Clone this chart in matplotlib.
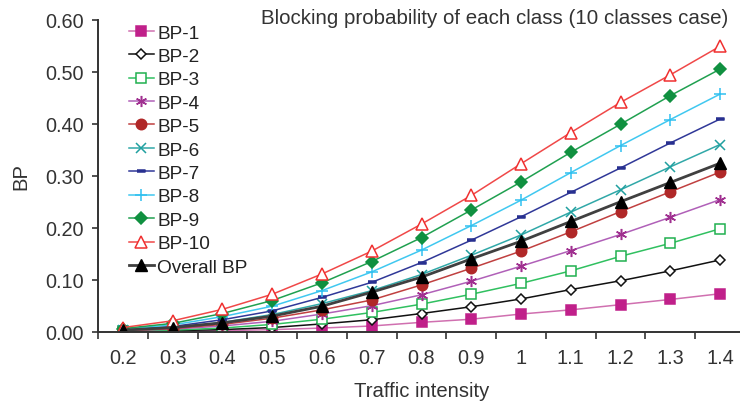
import numpy as np
import matplotlib
matplotlib.use('Agg')
import matplotlib.pyplot as plt
from matplotlib.ticker import FixedLocator

plt.rcParams['font.family'] = ['Liberation Sans', 'DejaVu Sans']

# Data
intensity = ['0.2', '0.3', '0.4', '0.5', '0.6', '0.7', '0.8', '0.9', '1', '1.1', '1.2', '1.3', '1.4']
bp1 = [0.000, 0.001, 0.002, 0.004, 0.007, 0.011, 0.018, 0.024, 0.034, 0.042, 0.052, 0.062, 0.073]
bp2 = [0.001, 0.002, 0.004, 0.008, 0.015, 0.023, 0.035, 0.048, 0.063, 0.081, 0.098, 0.117, 0.138]
bp3 = [0.001, 0.003, 0.007, 0.014, 0.024, 0.037, 0.053, 0.072, 0.093, 0.117, 0.145, 0.170, 0.198]
bp4 = [0.002, 0.005, 0.011, 0.020, 0.034, 0.050, 0.071, 0.097, 0.126, 0.156, 0.187, 0.220, 0.254]
bp5 = [0.002, 0.006, 0.014, 0.026, 0.042, 0.061, 0.090, 0.122, 0.155, 0.192, 0.231, 0.269, 0.307]
bp6 = [0.003, 0.008, 0.018, 0.033, 0.054, 0.079, 0.110, 0.147, 0.186, 0.230, 0.273, 0.317, 0.360]
bp7 = [0.004, 0.010, 0.023, 0.040, 0.066, 0.095, 0.133, 0.176, 0.221, 0.268, 0.315, 0.363, 0.409]
bp8 = [0.005, 0.013, 0.029, 0.049, 0.079, 0.115, 0.157, 0.204, 0.253, 0.306, 0.358, 0.408, 0.457]
bp9 = [0.006, 0.016, 0.035, 0.060, 0.094, 0.135, 0.181, 0.234, 0.288, 0.345, 0.399, 0.454, 0.505]
bp10 = [0.008, 0.021, 0.043, 0.072, 0.111, 0.155, 0.207, 0.262, 0.323, 0.383, 0.441, 0.494, 0.549]
overall = [0.003, 0.008, 0.017, 0.030, 0.049, 0.076, 0.105, 0.140, 0.174, 0.212, 0.250, 0.287, 0.324]

x = np.arange(len(intensity))
dash = [(-1, -0.35), (1, -0.35), (1, 0.35), (-1, 0.35)]

# (label, values, line colour, marker colour, marker, size, filled)
series = [
    ('BP-1', bp1, '#d070b0', '#c0208a', 's', 7.5, True),
    ('BP-2', bp2, '#111111', '#111111', 'D', 5, False),
    ('BP-3', bp3, '#30c060', '#20b050', 's', 7, False),
    ('BP-4', bp4, '#b060b8', '#a03090', (6, 2, 0), 8, False),
    ('BP-5', bp5, '#c04040', '#b02828', 'o', 7.5, True),
    ('BP-6', bp6, '#30a8a8', '#20a0a0', 'x', 7, False),
    ('BP-7', bp7, '#303898', '#283090', dash, 6, True),
    ('BP-8', bp8, '#40c8f0', '#30c0f0', '+', 8, False),
    ('BP-9', bp9, '#20a050', '#109040', 'D', 6.5, True),
    ('BP-10', bp10, '#f04848', '#f03030', '^', 8, False),
]

fig = plt.figure(figsize=(7.4, 4.06), dpi=100)
ax = fig.add_axes([98 / 740, 73.3 / 406, 647 / 740, 312 / 406])

for label, vals, lc, mc, mk, ms, filled in series:
    ax.plot(x, vals, color=lc, lw=1.1, marker=mk, markersize=ms,
            markerfacecolor=mc if filled else 'white',
            markeredgecolor=mc, markeredgewidth=1.1, label=label)

ax.plot(x, overall, color='#404040', lw=2, marker='^', markersize=9,
        markerfacecolor='black', markeredgecolor='black', label='Overall BP')

ax.set_xlim(-0.5, len(intensity) - 0.5)
ax.set_ylim(0, 0.6)
ax.set_yticks(np.arange(0, 0.61, 0.1))
ax.set_yticklabels(['%.2f' % v for v in np.arange(0, 0.61, 0.1)])
ax.set_xticks(x)
ax.set_xticklabels(intensity)
ax.xaxis.set_minor_locator(FixedLocator(np.arange(-0.5, len(intensity), 1.0)))
ax.tick_params(axis='x', which='major', length=0, pad=12, labelsize=14.3, colors='#333333')
ax.tick_params(axis='x', which='minor', length=5, width=1.2, direction='out', color='#333333')
ax.tick_params(axis='y', length=4, width=1.2, pad=6, labelsize=14.3, colors='#333333')

for s in ['top', 'right']:
    ax.spines[s].set_visible(False)
for s in ['left', 'bottom']:
    ax.spines[s].set_linewidth(1.4)
    ax.spines[s].set_color('#333333')

ax.set_xlabel('Traffic intensity', fontsize=14.6, color='#333333', labelpad=10)
ax.set_ylabel('BP', fontsize=14.6, color='#333333', labelpad=11)

fig.text(728 / 740, 1 - 18 / 406, 'Blocking probability of each class (10 classes case)',
         ha='right', va='center', fontsize=14.8, color='#333333')

leg = ax.legend(loc='upper left', bbox_to_anchor=(0.036, 1.01), frameon=False,
                fontsize=13.7, handlelength=1.3, handletextpad=0.2,
                labelspacing=0.32, borderaxespad=0)
for t in leg.get_texts():
    t.set_color('#222222')

fig.savefig('out.png', dpi=100)
